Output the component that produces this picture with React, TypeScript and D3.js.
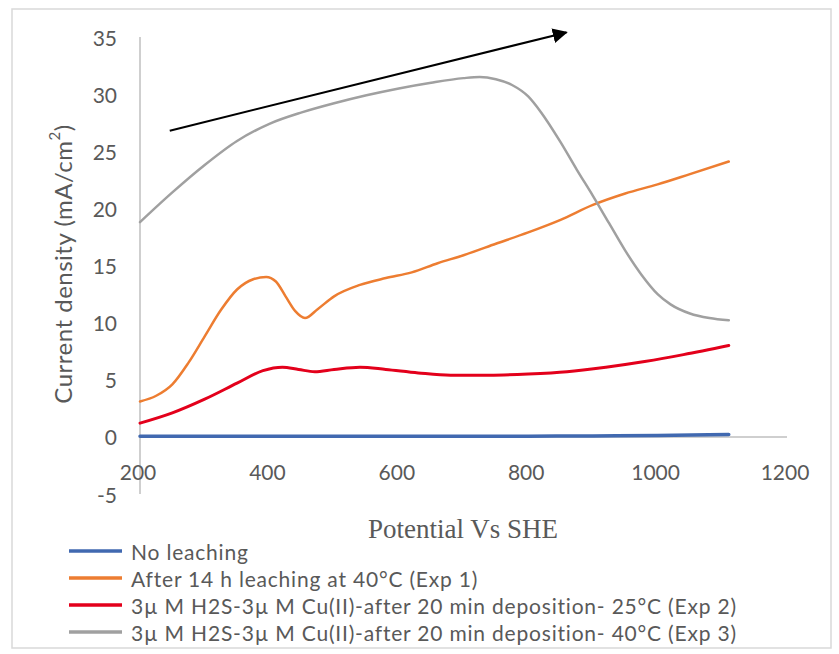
import React from "react";
import * as d3 from "d3";

type Pt = [number, number];

// potential (mV vs SHE), current density (mA/cm²)
const noLeaching: Pt[] = [
  [200, 0.05], [400, 0.05], [600, 0.05], [800, 0.06], [900, 0.08], [1000, 0.12], [1110, 0.2],
];

const exp1: Pt[] = [
  [200, 3.1], [225, 3.6], [250, 4.6], [275, 6.5], [300, 8.8], [325, 11.1], [350, 12.9],
  [375, 13.8], [395, 14.0], [410, 13.6], [425, 12.3], [440, 11.0], [455, 10.4], [475, 11.2],
  [500, 12.3], [540, 13.3], [580, 13.9], [620, 14.4], [660, 15.2], [700, 15.9], [750, 16.9],
  [800, 17.9], [850, 19.0], [900, 20.3], [950, 21.3], [1000, 22.1], [1050, 23.0], [1110, 24.1],
];

const exp2: Pt[] = [
  [200, 1.2], [250, 2.1], [300, 3.3], [350, 4.7], [390, 5.8], [420, 6.1], [445, 5.9],
  [470, 5.7], [500, 5.9], [540, 6.1], [580, 5.9], [630, 5.6], [680, 5.4], [740, 5.4],
  [800, 5.5], [860, 5.7], [920, 6.1], [980, 6.6], [1040, 7.2], [1110, 8.0],
];

const exp3: Pt[] = [
  [200, 18.8], [250, 21.4], [300, 23.8], [350, 25.9], [400, 27.4], [450, 28.4], [500, 29.2],
  [550, 29.9], [600, 30.5], [650, 31.0], [700, 31.4], [725, 31.5], [750, 31.3], [775, 30.8],
  [800, 29.8], [820, 28.4], [850, 25.8], [875, 23.4], [900, 21.1], [925, 18.7], [950, 16.3],
  [975, 14.2], [1000, 12.5], [1020, 11.6], [1050, 10.8], [1080, 10.4], [1110, 10.2],
];

const xTicks = [200, 400, 600, 800, 1000, 1200];
const yTicks = [-5, 0, 5, 10, 15, 20, 25, 30, 35];

const seriesNames = [
  "No leaching",
  "After 14 h leaching at 40°C (Exp 1)",
  "3µ M H2S-3µ M Cu(II)-after 20 min deposition- 25°C (Exp 2)",
  "3µ M H2S-3µ M Cu(II)-after 20 min deposition- 40°C (Exp 3)",
];

// scan direction arrow, in data units
const arrowFrom: Pt = [246, 26.8];
const arrowTo: Pt = [859, 35.4];

const W = 839;
const H = 654;
const FONT = "Lato, 'Open Sans', sans-serif";
const TEXT = "#595959";

const series = [
  { data: noLeaching, color: "#4169b0", width: 3.5 },
  { data: exp1, color: "#ed7d31", width: 2.5 },
  { data: exp2, color: "#e3001b", width: 3 },
  { data: exp3, color: "#a0a0a0", width: 2.5 },
];

export default function App() {
  const x = d3.scaleLinear().domain([200, 1200]).range([140, 787]);
  const y = d3.scaleLinear().domain([-5, 35]).range([494, 37]);

  const line = d3
    .line<Pt>()
    .x((d) => x(d[0]))
    .y((d) => y(d[1]))
    .curve(d3.curveMonotoneX);

  const legendX = 69;
  const legendY0 = 551;
  const legendStep = 27;

  return (
    <svg
      width={W}
      height={H}
      style={{ position: "absolute", left: 0, top: 0, background: "#fff" }}
      fontFamily={FONT}
    >
      <defs>
        <marker
          id="arrowHead"
          viewBox="0 0 10 10"
          refX="9"
          refY="5"
          markerWidth="7.5"
          markerHeight="7.5"
          orient="auto"
        >
          <path d="M0,0 L10,5 L0,10 z" fill="#000" />
        </marker>
      </defs>

      <rect x={12} y={9} width={819} height={639} fill="none" stroke="#d9d9d9" strokeWidth={1.5} />

      {/* axes */}
      <line x1={x(200)} x2={x(200)} y1={y(35)} y2={y(-5)} stroke="#bfbfbf" strokeWidth={1.5} />
      <line x1={x(200)} x2={x(1200)} y1={y(0)} y2={y(0)} stroke="#bfbfbf" strokeWidth={1.5} />

      {yTicks.map((t) => (
        <text
          key={`y${t}`}
          x={117}
          y={y(t)}
          textAnchor="end"
          dominantBaseline="central"
          fontSize={21}
          fill={TEXT}
        >
          {t}
        </text>
      ))}
      {xTicks.map((t) => (
        <text
          key={`x${t}`}
          x={x(t) - 2}
          y={471}
          textAnchor="middle"
          dominantBaseline="central"
          fontSize={21}
          fill={TEXT}
        >
          {t}
        </text>
      ))}

      <text
        transform={`translate(62,264) rotate(-90)`}
        textAnchor="middle"
        dominantBaseline="central"
        fontSize={24}
        letterSpacing={0.5}
        fill={TEXT}
      >
        Current density (mA/cm<tspan fontSize={15} dy={-8}>2</tspan>
        <tspan dy={8}>)</tspan>
      </text>

      <text
        x={463}
        y={538}
        textAnchor="middle"
        fontFamily="'Liberation Serif', 'Times New Roman', serif"
        fontSize={27}
        fill={TEXT}
      >
        Potential Vs SHE
      </text>

      {/* curves */}
      {series.map((s, i) => (
        <path
          key={i}
          d={line(s.data) ?? ""}
          fill="none"
          stroke={s.color}
          strokeWidth={s.width}
          strokeLinejoin="round"
          strokeLinecap="round"
        />
      ))}

      <line
        x1={x(arrowFrom[0])}
        y1={y(arrowFrom[1])}
        x2={x(arrowTo[0])}
        y2={y(arrowTo[1])}
        stroke="#000"
        strokeWidth={2}
        markerEnd="url(#arrowHead)"
      />

      {/* legend */}
      {seriesNames.map((name, i) => (
        <g key={name} transform={`translate(${legendX},${legendY0 + i * legendStep})`}>
          <line x1={0} x2={53} y1={0} y2={0} stroke={series[i].color} strokeWidth={3.5} />
          <text
            x={62}
            y={0}
            dominantBaseline="central"
            fontSize={21}
            letterSpacing={0.8}
            fill={TEXT}
          >
            {name}
          </text>
        </g>
      ))}
    </svg>
  );
}
